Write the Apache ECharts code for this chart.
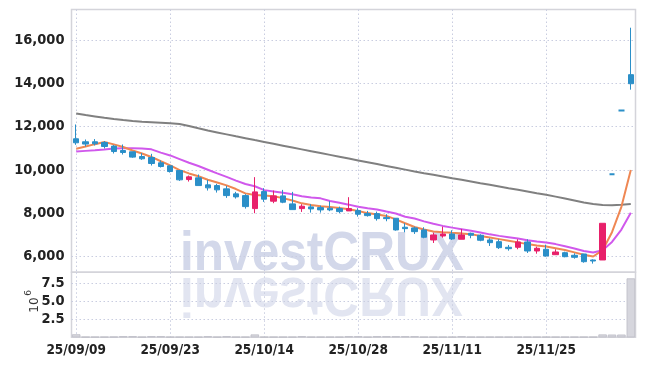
<!DOCTYPE html>
<html><head><meta charset="utf-8">
<script src="https://cdn.jsdelivr.net/npm/echarts@6/dist/echarts.min.js"></script>
<style>html,body{margin:0;padding:0;background:#fff}#c{width:645px;height:366px}</style>
</head><body><div id="c"></div>
<script>
const dates = ['25/09/09','25/09/10','25/09/11','25/09/12','25/09/15','25/09/16','25/09/17','25/09/18','25/09/19','25/09/22',
'25/09/23','25/09/24','25/09/25','25/09/26','25/09/29','25/09/30','25/10/01','25/10/02','25/10/10','25/10/13',
'25/10/14','25/10/15','25/10/16','25/10/17','25/10/20','25/10/21','25/10/22','25/10/23','25/10/24','25/10/27',
'25/10/28','25/10/29','25/10/30','25/10/31','25/11/03','25/11/04','25/11/05','25/11/06','25/11/07','25/11/10',
'25/11/11','25/11/12','25/11/13','25/11/14','25/11/17','25/11/18','25/11/19','25/11/20','25/11/21','25/11/24',
'25/11/25','25/11/26','25/11/27','25/11/28','25/12/01','25/12/02','25/12/03','25/12/04','25/12/05','25/12/08'];
const openP = [11438,11300,11300,11267,11100,10897,10837,10620,10574,10330,
10190,9973,9557,9636,9312,9280,9128,8897,8818,8218,
9003,8559,8804,8435,8218,8296,8264,8236,8218,8111,
8125,7987,7987,7802,7774,7358,7326,7234,6771,6956,
7049,6804,7080,6989,6772,6693,6434,6434,6680,6263,
6342,6092,6185,6065,6125,5848,5848,9800,12740,14395];
const closeP = [11253,11193,11207,11082,10850,10805,10592,10514,10297,10158,
9927,9544,9682,9280,9174,9082,8818,8758,8310,8989,
8652,8804,8513,8171,8328,8204,8158,8158,8079,8218,
7959,7894,7755,7755,7233,7294,7155,6896,7003,7049,
6818,7003,6989,6758,6647,6416,6370,6680,6263,6388,
6032,6217,6000,5972,5769,5801,7540,9800,12740,13977];
const lowP = [11160,11082,11128,10990,10759,10712,10560,10467,10204,10112,
9880,9497,9465,9280,9050,8957,8712,8680,8218,8005,
8527,8467,8467,8171,8065,8033,8033,8098,8005,8111,
7848,7848,7663,7635,7201,7127,7049,6850,6633,6878,
6771,6804,6850,6711,6494,6356,6277,6342,6171,6139,
6000,6078,5972,5908,5723,5680,5848,9800,12740,13702];
const highP = [12098,11405,11424,11330,11146,11174,10837,10777,10744,10435,
10190,9973,9742,9790,9543,9358,9266,8990,8883,9668,
9160,9050,9082,8989,8421,8421,8356,8560,8310,8744,
8236,8111,8079,7959,7774,7543,7386,7358,7109,7386,
7220,7280,7109,7035,6850,6804,6540,6804,6804,6462,
6554,6342,6231,6157,6125,5880,7540,9800,12740,16560];
const volumeM = [0.42,0.06,0.06,0.06,0.08,0.15,0.15,0.06,0.15,0.15,
0.06,0.06,0.06,0.06,0.15,0.06,0.15,0.06,0.06,0.40,
0.06,0.06,0.06,0.06,0.15,0.06,0.06,0.06,0.06,0.15,
0.15,0.06,0.15,0.15,0.15,0.15,0.15,0.06,0.06,0.06,
0.06,0.15,0.06,0.06,0.06,0.06,0.06,0.06,0.06,0.06,
0.06,0.06,0.06,0.06,0.06,0.06,0.40,0.38,0.38,8.20];
const ma5 = [10980,11080,11190,11290,11180,11060,10900,10760,10600,10400,
10210,9990,9840,9710,9550,9420,9290,9120,8920,8845,
8820,8790,8700,8590,8460,8380,8330,8295,8250,8190,
8110,8010,7950,7880,7720,7540,7370,7250,7165,7130,
7100,7075,7040,6950,6880,6810,6740,6660,6580,6520,
6465,6390,6310,6200,6090,6010,6300,7130,8300,10000];
const ma10 = [10855,10880,10905,10940,10990,11005,11000,10985,10950,10800,
10670,10500,10330,10180,10010,9840,9680,9510,9350,9250,
9070,9010,8950,8880,8790,8730,8690,8570,8490,8400,
8300,8230,8180,8080,7990,7840,7760,7630,7520,7420,
7340,7270,7200,7120,7030,6960,6900,6840,6760,6700,
6650,6580,6480,6380,6260,6190,6300,6680,7250,8030];
const maLong = [12607,12530,12470,12405,12350,12300,12260,12225,12200,12175,
12150,12120,12030,11920,11820,11730,11640,11550,11465,11378,
11292,11206,11120,11035,10950,10865,10780,10695,10610,10525,
10440,10355,10270,10185,10100,10015,9930,9850,9775,9700,
9620,9545,9470,9390,9315,9240,9160,9085,9010,8930,
8855,8770,8680,8590,8495,8430,8385,8376,8395,8435];
const priceTicks = [6000,8000,10000,12000,14000,16000];
const volTicks = [2.5,5.0,7.5];

const RED = '#e8206a', BLUE = '#2b8fc8';
const FONT = "'Liberation Sans Narrow','DejaVu Sans Condensed','Roboto Condensed',Roboto,sans-serif";
const GRIDC = '#c9cde0';

const candleData = dates.map((d,i)=>{
  const it = {value:[openP[i],closeP[i],lowP[i],highP[i]]};
  if (openP[i]===closeP[i]) it.itemStyle = {color:BLUE,color0:BLUE,borderColor:BLUE,borderColor0:BLUE,borderWidth:2};
  return it;
});
const every10 = (i)=> i%10===0;

const chart = echarts.init(document.getElementById('c'));
chart.setOption({
  animation:false,
  backgroundColor:'#fff',
  grid:[
    {left:71.5,right:9.5,top:9.5,height:262.8,show:true,borderColor:'#d4d4da',borderWidth:1.5},
    {left:71.5,right:9.5,top:272.3,height:65,show:true,borderColor:'#d4d4da',borderWidth:1.5}
  ],
  xAxis:[
    {type:'category',gridIndex:0,data:dates,boundaryGap:true,axisLine:{show:false},axisTick:{show:false},axisLabel:{show:false},
     splitLine:{show:true,interval:every10,alignWithLabel:true,lineStyle:{color:GRIDC,type:[1.5,2.5],width:1}}},
    {type:'category',gridIndex:1,data:dates,boundaryGap:true,axisLine:{show:false},axisTick:{show:false},
     axisLabel:{show:true,interval:every10,margin:6,fontFamily:FONT,fontSize:13.5,fontWeight:'bold',color:'#222'},
     splitLine:{show:true,interval:every10,alignWithLabel:true,lineStyle:{color:GRIDC,type:[1.5,2.5],width:1}}}
  ],
  yAxis:[
    {type:'value',gridIndex:0,min:5280,max:17400,axisLine:{show:false},
     axisTick:{show:false,customValues:priceTicks},
     axisLabel:{customValues:priceTicks,margin:7,fontFamily:FONT,fontSize:14.5,fontWeight:'bold',color:'#222',formatter:v=>v.toLocaleString('en-US')},
     splitLine:{show:true,lineStyle:{color:GRIDC,type:[1.5,2.5],width:1}}},
    {type:'value',gridIndex:1,min:0,max:9.04,axisLine:{show:false},
     axisTick:{show:false,customValues:volTicks},
     axisLabel:{customValues:volTicks,margin:7,fontFamily:FONT,fontSize:14.5,fontWeight:'bold',color:'#222',formatter:v=>v.toFixed(1)},
     splitLine:{show:true,lineStyle:{color:GRIDC,type:[1.5,2.5],width:1}}}
  ],
  graphic:[
    {type:'group',x:180,y:274,scaleX:0.87,scaleY:0.96,z:1,silent:true,children:[
      {type:'text',style:{text:'investCRUX',x:0,y:-0.3465*57,font:'bold 57px "Liberation Sans"',fill:'#d3d8ea',align:'left',verticalAlign:'middle'}},
      {type:'text',scaleY:-1,style:{text:'investCRUX',x:0,y:-0.3465*57,font:'bold 57px "Liberation Sans"',fill:'#e2e5f1',align:'left',verticalAlign:'middle'}}
    ]},
    {type:'text',x:35,y:305,rotation:Math.PI/2,style:{text:'10',font:'12px "DejaVu Sans"',fill:'#333',align:'center',verticalAlign:'middle'}},
    {type:'text',x:29,y:293,rotation:Math.PI/2,style:{text:'6',font:'9px "DejaVu Sans"',fill:'#333',align:'center',verticalAlign:'middle'}}
  ],
  series:[
    {type:'line',name:'MA long',xAxisIndex:0,yAxisIndex:0,data:maLong,showSymbol:false,z:3,lineStyle:{color:'#808080',width:2}},
    {type:'line',name:'MA10',xAxisIndex:0,yAxisIndex:0,data:ma10,showSymbol:false,z:3,lineStyle:{color:'#d058ec',width:2}},
    {type:'line',name:'MA5',xAxisIndex:0,yAxisIndex:0,data:ma5,showSymbol:false,z:3,lineStyle:{color:'#ef8753',width:2}},
    {type:'candlestick',xAxisIndex:0,yAxisIndex:0,data:candleData,barWidth:6,z:4,
     itemStyle:{color:RED,color0:BLUE,borderColor:RED,borderColor0:BLUE,borderWidth:1}},
    {type:'bar',xAxisIndex:1,yAxisIndex:1,data:volumeM,barCategoryGap:'10%',z:3,
     itemStyle:{color:'#d6d6dd',borderColor:'#bdbdc6',borderWidth:0.8}}
  ]
});
</script></body></html>
